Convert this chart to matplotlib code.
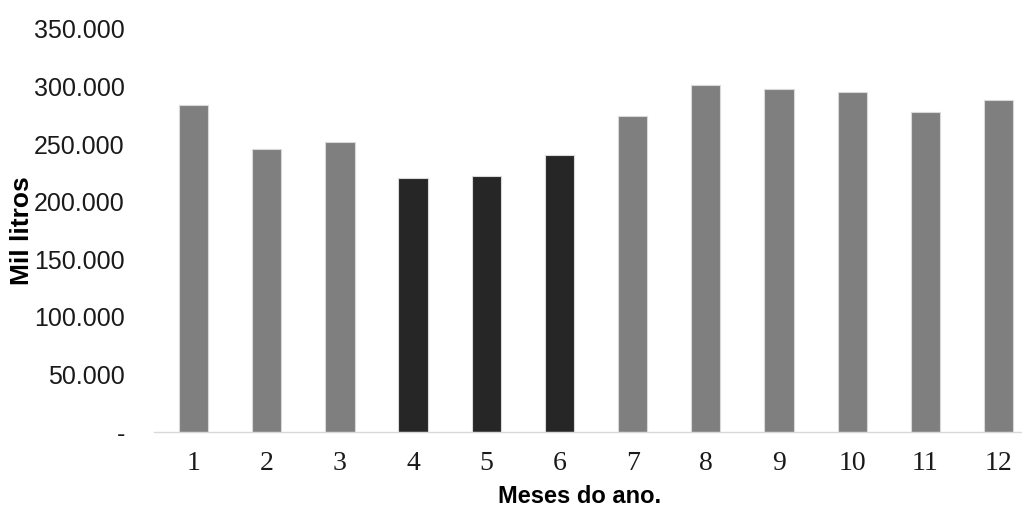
import matplotlib.pyplot as plt
from matplotlib.ticker import FuncFormatter

meses = [1, 2, 3, 4, 5, 6, 7, 8, 9, 10, 11, 12]
volume = [284200, 245400, 251700, 220600, 221900, 240700,
          274100, 301100, 297600, 295300, 277600, 288600]
cores = ["#7f7f7f"] * 3 + ["#262626"] * 3 + ["#7f7f7f"] * 6
y_ticks = [0, 50000, 100000, 150000, 200000, 250000, 300000, 350000]


def milhar(v, pos):
    # formato brasileiro: ponto como separador de milhar, traço no zero
    if v == 0:
        return "-"
    return f"{int(v):,}".replace(",", ".")


fig = plt.figure(figsize=(10.22, 5.09), dpi=100)
ax = fig.add_axes([154 / 1022, 77 / 509, 868 / 1022, 403 / 509])

ax.bar(meses, volume, width=0.40, color=cores, edgecolor="#d9d9d9", linewidth=0.8)

ax.set_xlim(0.46, 12.32)
ax.set_ylim(0, 350000)
ax.set_yticks(y_ticks)
ax.yaxis.set_major_formatter(FuncFormatter(milhar))
ax.set_xticks(meses)
ax.set_xticklabels([str(m) for m in meses], fontfamily="Liberation Serif", fontsize=20)

ax.tick_params(axis="y", length=0, pad=21, labelsize=18, labelcolor="#1a1a1a")
ax.tick_params(axis="x", length=0, pad=14, labelcolor="#1a1a1a")
for lbl in ax.get_yticklabels():
    lbl.set_fontfamily("Liberation Sans")

for side in ["top", "right", "left"]:
    ax.spines[side].set_visible(False)
ax.spines["bottom"].set_color("#d9d9d9")
ax.spines["bottom"].set_linewidth(1.0)

ax.set_ylabel("Mil litros", fontfamily="Liberation Sans", fontweight="bold", fontsize=19)
ax.yaxis.set_label_coords(-0.138, 0.5)
ax.set_xlabel("Meses do ano.", fontfamily="Liberation Sans", fontweight="bold", fontsize=17,
              va="center")
ax.xaxis.set_label_coords(0.49, -0.161)

plt.savefig("out.png", dpi=100)
